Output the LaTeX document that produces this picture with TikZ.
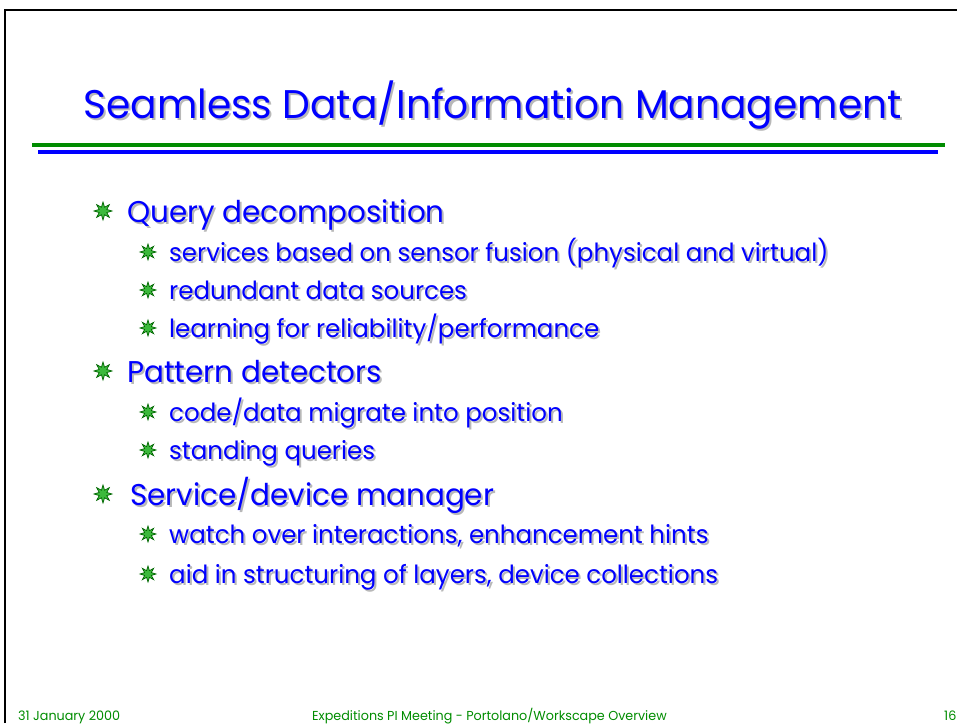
\documentclass[tikz,border=0pt]{standalone}
\usepackage{fontspec}
\setmainfont[FakeStretch=0.98]{Poppins}
\usetikzlibrary{shapes.geometric}
\definecolor{slideblue}{RGB}{0,0,255}
\definecolor{slidegreen}{RGB}{0,140,0}
\definecolor{starfill}{RGB}{60,185,60}
\newcommand{\shadowline}[5]
{   % #1 = naming of text node
    % #2 = text style
    % #3 = x of baseline start
    % #4 = y of baseline start
    % #5 = text
    \node[#2, anchor=base west] (#1) at (#3, #4)
        {{\color{black!28}\rlap{\kern2pt\raisebox{-2pt}{#5}}}#5};
}

\begin{document}
\begin{tikzpicture}[x=1pt, y=-1pt]
    \tikzset
    {
        title/.style = {inner sep = 0pt,
                        text = slideblue,
                        font = \fontsize{40}{44}\selectfont},
        topitem/.style = {inner sep = 0pt,
                          text = slideblue,
                          font = \fontsize{30}{34}\selectfont},
        subitem/.style = {inner sep = 0pt,
                          text = slideblue,
                          font = \fontsize{25}{28}\selectfont},
        footer/.style = {inner sep = 0pt,
                         text = slidegreen,
                         anchor = base west,
                         font = \fontsize{13}{15}\selectfont},
        bullet/.style = {star,
                         star points = 8,
                         star point ratio = 2.2,
                         inner sep = 0pt,
                         minimum size = #1,
                         draw = green!40!black,
                         fill = starfill,
                         line width = 0.7pt},
        bullet/.default = 16pt
    };
    \useasboundingbox (0,0) rectangle (957,723);

    % Frame
    \draw[line width = 2pt] (5,723) -- (5,10) -- (957,10);

    % Title and rules
    \shadowline{head}{title}{83}{118}{Seamless Data/Information Management}
    \draw[slidegreen, line width = 4pt] (32,145) -- (945,145);
    \draw[slideblue, line width = 4pt] (38,152) -- (938,152);

    % Items
    % 1
    \node[bullet=18pt] (b-query) at (103,211) {};
    \shadowline{query}{topitem}{127}{222}{Query decomposition}
    \node[bullet] (b-fusion) at (148,252) {};
    \shadowline{fusion}{subitem}{169}{261}{services based on sensor fusion (physical and virtual)}
    \node[bullet] (b-sources) at (148,290) {};
    \shadowline{sources}{subitem}{169}{299}{redundant data sources}
    \node[bullet] (b-learn) at (148,328) {};
    \shadowline{learn}{subitem}{169}{337}{learning for reliability/performance}
    % 2
    \node[bullet=18pt] (b-pattern) at (103,371) {};
    \shadowline{pattern}{topitem}{127}{382}{Pattern detectors}
    \node[bullet] (b-migrate) at (148,412) {};
    \shadowline{migrate}{subitem}{169}{421}{code/data migrate into position}
    \node[bullet] (b-standing) at (148,450) {};
    \shadowline{standing}{subitem}{169}{459}{standing queries}
    % 3
    \node[bullet=18pt] (b-manager) at (103,494) {};
    \shadowline{manager}{topitem}{130}{505}{Service/device manager}
    \node[bullet] (b-watch) at (148,534) {};
    \shadowline{watch}{subitem}{169}{543}{watch over interactions, enhancement hints}
    \node[bullet] (b-aid) at (148,574) {};
    \shadowline{aid}{subitem}{169}{583}{aid in structuring of layers, device collections}

    % Footer
    \node[footer] (date) at (18,720) {31 January 2000};
    \node[footer] (meeting) at (312,720) {Expeditions PI Meeting - Portolano/Workscape Overview};
    \node[footer] (page) at (944,720) {16};
\end{tikzpicture}
\end{document}
